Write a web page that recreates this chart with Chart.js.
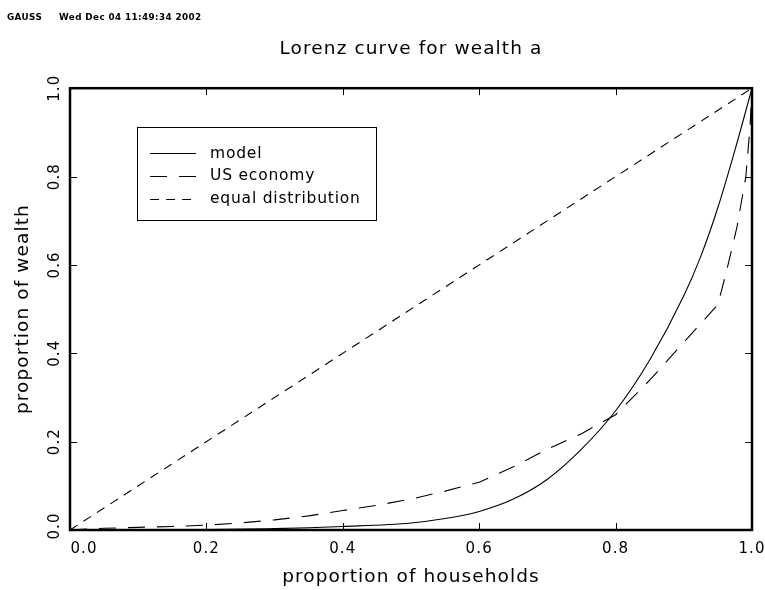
<!DOCTYPE html>
<html><head><meta charset="utf-8">
<script src="https://cdn.jsdelivr.net/npm/chart.js@4.4.1/dist/chart.umd.min.js"></script>
<style>html,body{margin:0;padding:0;background:#fff}#wrap{width:765px;height:590px}</style>
</head><body><div id="wrap"><canvas id="c" width="765" height="590"></canvas></div>
<script>
const headerLeft = 'GAUSS';
const headerRight = 'Wed Dec 04 11:49:34 2002';
const titleText = 'Lorenz curve for wealth a';
const xTitle = 'proportion of households';
const yTitle = 'proportion of wealth';
const seriesNames = ['model', 'US economy', 'equal distribution'];
const tickValues = [0, 0.2, 0.4, 0.6, 0.8, 1.0];
const tickLabels = ['0.0', '0.2', '0.4', '0.6', '0.8', '1.0'];

const modelX = [0, 0.1, 0.2, 0.3, 0.4, 0.5, 0.55, 0.6, 0.65, 0.7, 0.75, 0.8, 0.85, 0.9, 0.925, 0.95, 0.975, 1.0];
const modelY = [0, 0.0005, 0.001, 0.003, 0.008, 0.016, 0.026, 0.042, 0.07, 0.115, 0.183, 0.27, 0.385, 0.53, 0.62, 0.73, 0.86, 1.0];

const usX = [0, 0.05, 0.1, 0.15, 0.2, 0.25, 0.3, 0.35, 0.4, 0.45, 0.5, 0.55, 0.6, 0.65, 0.7, 0.75, 0.8, 0.85, 0.9, 0.95, 0.963, 0.978, 0.991, 0.997, 1.0];
const usY = [0, 0.004, 0.006, 0.008, 0.011, 0.016, 0.023, 0.032, 0.044, 0.056, 0.07, 0.088, 0.108, 0.143, 0.183, 0.218, 0.261, 0.339, 0.425, 0.51, 0.588, 0.686, 0.80, 0.91, 1.0];

const equalX = [0, 1];
const equalY = [0, 1];

const toPts = (xs, ys) => xs.map((x, i) => ({x: x, y: ys[i]}));

Chart.defaults.color = '#000';
Chart.defaults.font.family = '"DejaVu Sans", sans-serif';

const spacingPlugin = {
  id: 'spacing',
  beforeLayout(chart) { chart.ctx.letterSpacing = '1.1px'; },
  beforeDraw(chart) {
    chart.ctx.letterSpacing = '1.1px';
    // nudge the corner labels like the original (keep them clear of the corner)
    const xi = chart.scales.x.getLabelItems(chart.chartArea);
    if (xi.length && !xi[0]._nudged) {
      const t = xi[0].options.translation;
      xi[0].options.translation = [t[0] + 14, t[1]];
      xi[0]._nudged = true;
    }
    const yi = chart.scales.y.getLabelItems(chart.chartArea);
    if (yi.length && !yi[0]._nudged) {
      const t = yi[0].options.translation;
      yi[0].options.translation = [t[0], t[1] - 4];
      yi[0]._nudged = true;
    }
  }
};

const framePlugin = {
  id: 'frame',
  afterDraw(chart) {
    const ctx = chart.ctx;
    const {left, right, top, bottom} = chart.chartArea;
    const xs = chart.scales.x, ys = chart.scales.y;
    ctx.save();
    ctx.letterSpacing = '0px';
    ctx.strokeStyle = '#000';
    ctx.lineWidth = 1;
    ctx.beginPath();
    tickValues.forEach(v => {
      if (v <= 0 || v >= 1) return;
      const px = Math.round(xs.getPixelForValue(v)) + 0.5;
      ctx.moveTo(px, bottom); ctx.lineTo(px, bottom - 7);
      ctx.moveTo(px, top); ctx.lineTo(px, top + 7);
      const py = Math.round(ys.getPixelForValue(v)) + 0.5;
      ctx.moveTo(left, py); ctx.lineTo(left + 7, py);
      ctx.moveTo(right, py); ctx.lineTo(right - 7, py);
    });
    ctx.stroke();
    ctx.lineWidth = 2.5;
    ctx.strokeRect(left, top, right - left, bottom - top);

    // legend
    ctx.lineWidth = 1;
    ctx.strokeRect(137.5, 127.5, 239, 93);
    const rows = [153, 175.5, 198.5];
    ctx.letterSpacing = '0.8px';
    ctx.font = '15.5px "DejaVu Sans", sans-serif';
    ctx.textBaseline = 'middle';
    ctx.fillStyle = '#000';
    chart.data.datasets.forEach((ds, i) => {
      const y = Math.round(rows[i]) + 0.5;
      ctx.setLineDash(ds.borderDash || []);
      ctx.beginPath();
      ctx.moveTo(150, y); ctx.lineTo(196, y);
      ctx.stroke();
      ctx.setLineDash([]);
      ctx.fillText(ds.label, 210, rows[i] + 0.5);
    });

    // header
    ctx.letterSpacing = '0.4px';
    ctx.font = 'bold 8.8px "DejaVu Sans", sans-serif';
    ctx.fillText(headerLeft, 7, 18);
    ctx.fillText(headerRight, 59, 18);
    ctx.restore();
  }
};

new Chart(document.getElementById('c'), {
  type: 'scatter',
  data: {
    datasets: [
      { label: seriesNames[0], data: toPts(modelX, modelY), showLine: true, borderColor: '#000', borderWidth: 1.1, pointRadius: 0, cubicInterpolationMode: 'monotone' },
      { label: seriesNames[1], data: toPts(usX, usY), showLine: true, borderColor: '#000', borderWidth: 1.1, pointRadius: 0, borderDash: [17, 12], tension: 0 },
      { label: seriesNames[2], data: toPts(equalX, equalY), showLine: true, borderColor: '#000', borderWidth: 1.1, pointRadius: 0, borderDash: [9, 7] }
    ]
  },
  options: {
    responsive: false,
    devicePixelRatio: 1,
    animation: false,
    layout: { padding: { left: 0, right: 13, top: 0, bottom: 0 } },
    plugins: {
      legend: { display: false },
      tooltip: { enabled: false },
      title: {
        display: true, text: titleText, fullSize: false, color: '#000',
        font: { size: 18.5, weight: 'normal' },
        padding: { top: 38, bottom: 28 }
      }
    },
    scales: {
      x: {
        type: 'linear', min: 0, max: 1,
        afterBuildTicks: s => { s.ticks = tickValues.map(v => ({value: v})); },
        afterFit: s => { s.height = 60; s.paddingLeft = 0; s.paddingRight = 0; },
        grid: { display: false, drawTicks: false },
        border: { display: false },
        ticks: { callback: (v, i) => tickLabels[i], font: { size: 15 }, padding: 10, maxRotation: 0, minRotation: 0, autoSkip: false },
        title: { display: true, text: xTitle, font: { size: 18.5 }, padding: { top: 0, bottom: 2 } }
      },
      y: {
        type: 'linear', min: 0, max: 1,
        afterBuildTicks: s => { s.ticks = tickValues.map(v => ({value: v})); },
        afterFit: s => { s.width = 70; s.paddingTop = 0; s.paddingBottom = 0; },
        grid: { display: false, drawTicks: false },
        border: { display: false },
        ticks: { callback: (v, i) => tickLabels[i], font: { size: 15 }, padding: 1, minRotation: 90, maxRotation: 90, crossAlign: 'center', autoSkip: false },
        title: { display: true, text: yTitle, font: { size: 18.5 }, padding: { top: 12, bottom: 0 } }
      }
    }
  },
  plugins: [spacingPlugin, framePlugin]
});
</script>
</body></html>
